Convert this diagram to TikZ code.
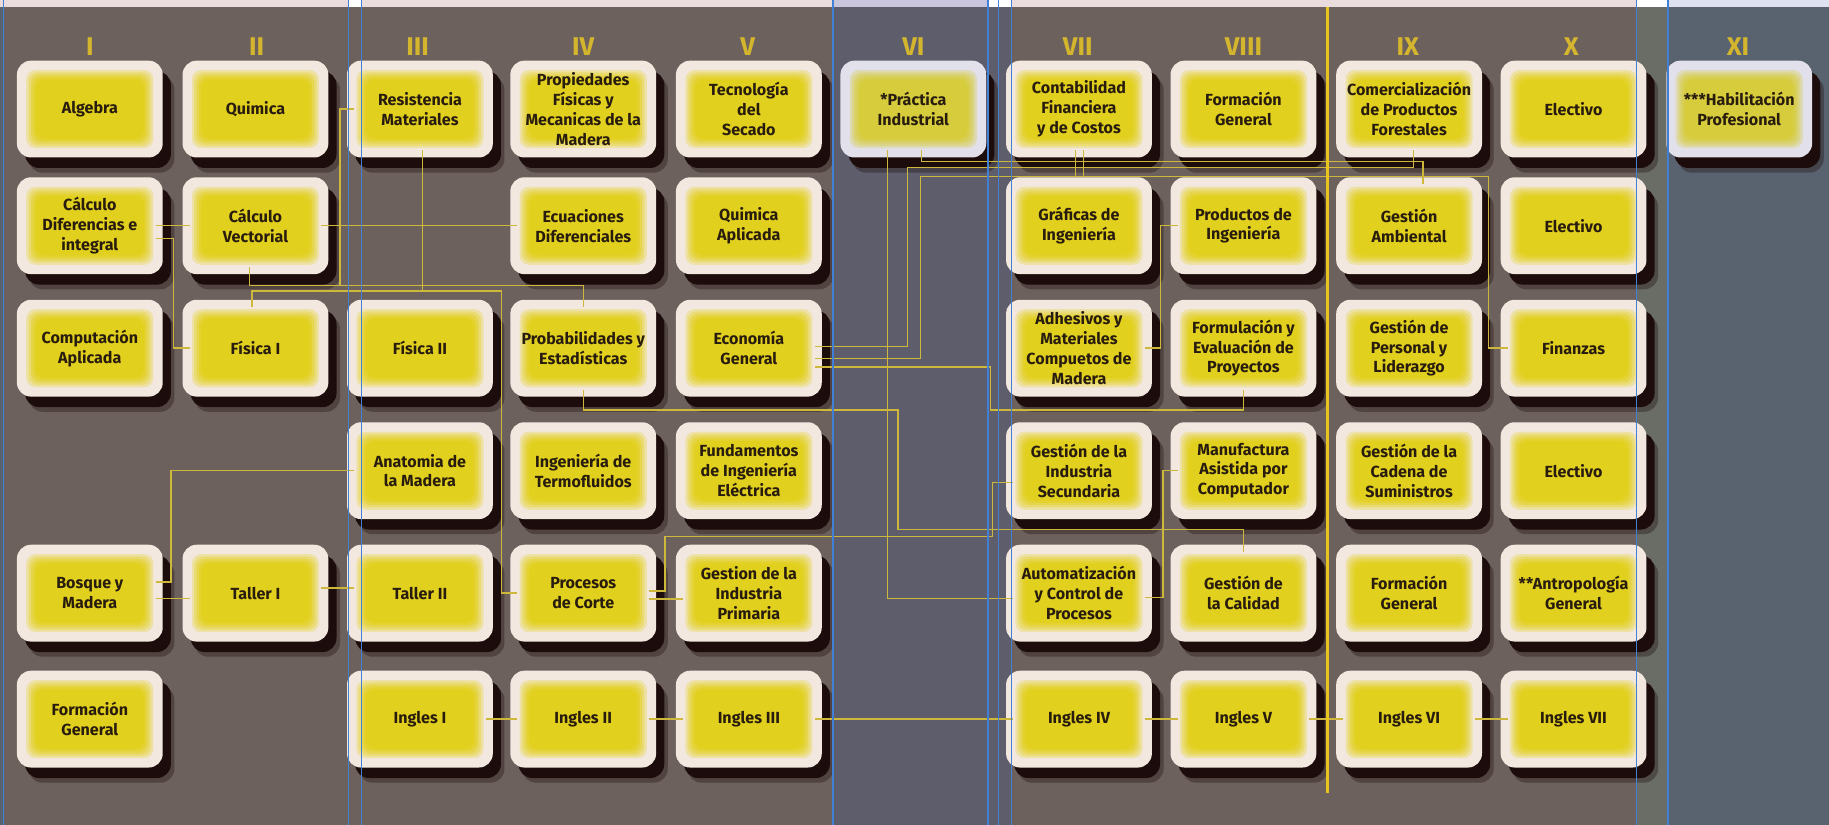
\documentclass[tikz,border=0pt]{standalone}
\usepackage{fontspec}
\setmainfont{Fira Sans}
\usepackage{xcolor}
\usepackage{tikz}
\usetikzlibrary{shadows}

\definecolor{bgbrown}{RGB}{108,97,93}
\definecolor{bgslate}{RGB}{94,93,107}
\definecolor{bgblue}{RGB}{88,99,111}
\definecolor{bgstrip}{RGB}{106,108,102}
\definecolor{bandpink}{RGB}{234,220,221}
\definecolor{bandlav}{RGB}{201,197,221}
\definecolor{bandice}{RGB}{221,225,240}
\definecolor{cream}{RGB}{243,232,224}
\definecolor{paleborder}{RGB}{226,224,234}
\definecolor{yel}{RGB}{226,208,30}
\definecolor{paleyel}{RGB}{214,204,60}
\definecolor{shadowc}{RGB}{28,12,12}
\definecolor{txt}{RGB}{40,28,14}
\definecolor{wirec}{RGB}{206,184,60}
\definecolor{numc}{RGB}{212,181,46}
\definecolor{guide}{RGB}{64,128,214}
\definecolor{divider}{RGB}{232,196,28}

\tikzset{
  boxbase/.style={rectangle, rounded corners=6pt, minimum width=62.5pt, minimum height=41.5pt,
    inner sep=0pt, outer sep=-3pt, align=center, text=txt,
    font=\fontsize{6.9}{8.5}\selectfont\bfseries,
    drop shadow={shadow xshift=5pt, shadow yshift=-6.5pt, fill=shadowc, opacity=0.35},
    drop shadow={shadow xshift=3.5pt, shadow yshift=-4.5pt, fill=shadowc, opacity=1}},
  boxglow/.style 2 args={fill=#1,
    path picture={\foreach \d/\m in {4/70,5/45,6/25,7/10,8/0}
      \fill[#1!\m!#2, rounded corners=4pt]
        ([shift={(\d pt,-\d pt)}]path picture bounding box.north west) rectangle
        ([shift={(-\d pt,\d pt)}]path picture bounding box.south east);}},
  course/.style={boxbase, boxglow={cream}{yel}},
  coursepale/.style={boxbase, boxglow={paleborder}{paleyel}},
  numeral/.style={text=numc, font=\fontsize{11}{11}\selectfont\bfseries},
  link/.style={draw=wirec, line width=0.6pt}
}

\begin{document}
\begin{tikzpicture}[x=0.5pt,y=-0.5pt]
      \useasboundingbox (0,0) rectangle (1568,707);
      % background bands
      \fill[bgbrown] (0,0) rectangle (1568,707);
      \fill[bgblue] (0,0) rectangle (3,707);
      \fill[bgslate] (714,0) rectangle (867,707);
      \fill[bgstrip] (1403,0) rectangle (1430,707);
      \fill[bgblue] (1430,0) rectangle (1568,707);
      \fill[bandpink] (0,0) rectangle (1568,6);
      \fill[white] (299,0) rectangle (310,6);
      \fill[bandlav] (714,0) rectangle (847,6);
      \fill[white] (847,0) rectangle (867,6);
      \fill[white] (1403,0) rectangle (1430,6);
      \fill[bandice] (1430,0) rectangle (1568,6);
      \foreach \x/\sem in {77/I,220/II,358/III,500/IV,641/V,783/VI,924/VII,1066/VIII,1207/IX,1347/X,1490/XI}
      \node[numeral] at (\x,40) {\sem};

      % row 1
      \node[course] (alg) at (77,93.5) {Algebra};
      \node[course] (qui) at (219,93.5) {Quimica};
      \node[course] (res) at (360,93.5) {Resistencia\\Materiales};
      \node[course] (prop) at (500,93.5) {Propiedades\\Físicas y\\Mecanicas de la\\Madera};
      \node[course] (tec) at (642,93.5) {Tecnología\\del\\Secado};
      \node[coursepale] (prac) at (783,93.5) {*Práctica\\Industrial};
      \node[course] (cont) at (925,93.5) {Contabilidad\\Financiera\\y de Costos};
      \node[course] (fgenA) at (1066,93.5) {Formación\\General};
      \node[course] (com) at (1208,93.5) {Comercialización\\de Productos\\Forestales};
      \node[course] (elecA) at (1349,93.5) {Electivo};
      \node[coursepale] (hab) at (1491,93.5) {***Habilitación\\Profesional};
      % row 2
      \node[course] (cdi) at (77,193.5) {Cálculo\\Diferencias e\\integral};
      \node[course] (cvec) at (219,193.5) {Cálculo\\Vectorial};
      \node[course] (ecu) at (500,193.5) {Ecuaciones\\Diferenciales};
      \node[course] (qap) at (642,193.5) {Quimica\\Aplicada};
      \node[course] (graf) at (925,193.5) {Gráficas de\\Ingeniería};
      \node[course] (prod) at (1066,193.5) {Productos de\\Ingeniería};
      \node[course] (gamb) at (1208,193.5) {Gestión\\Ambiental};
      \node[course] (elecB) at (1349,193.5) {Electivo};
      % row 3
      \node[course] (comp) at (77,298.5) {Computación\\Aplicada};
      \node[course] (fis1) at (219,298.5) {Física I};
      \node[course] (fis2) at (360,298.5) {Física II};
      \node[course] (prob) at (500,298.5) {Probabilidades y\\Estadísticas};
      \node[course] (eco) at (642,298.5) {Economía\\General};
      \node[course] (adh) at (925,298.5) {Adhesivos y\\Materiales\\Compuetos de\\Madera};
      \node[course] (form) at (1066,298.5) {Formulación y\\Evaluación de\\Proyectos};
      \node[course] (gper) at (1208,298.5) {Gestión de\\Personal y\\Liderazgo};
      \node[course] (fin) at (1349,298.5) {Finanzas};
      % row 4
      \node[course] (anat) at (360,403.5) {Anatomia de\\la Madera};
      \node[course] (term) at (500,403.5) {Ingeniería de\\Termofluidos};
      \node[course] (fund) at (642,403.5) {Fundamentos\\de Ingeniería\\Eléctrica};
      \node[course] (gsec) at (925,403.5) {Gestión de la\\Industria\\Secundaria};
      \node[course] (manu) at (1066,403.5) {Manufactura\\Asistida por\\Computador};
      \node[course] (gcad) at (1208,403.5) {Gestión de la\\Cadena de\\Suministros};
      \node[course] (elecC) at (1349,403.5) {Electivo};
      % row 5
      \node[course] (bos) at (77,508.5) {Bosque y\\Madera};
      \node[course] (tal1) at (219,508.5) {Taller I};
      \node[course] (tal2) at (360,508.5) {Taller II};
      \node[course] (proc) at (500,508.5) {Procesos\\de Corte};
      \node[course] (gprim) at (642,508.5) {Gestion de la\\Industria\\Primaria};
      \node[course] (auto) at (925,508.5) {Automatización\\y Control de\\Procesos};
      \node[course] (gcal) at (1066,508.5) {Gestión de\\la Calidad};
      \node[course] (fgenB) at (1208,508.5) {Formación\\General};
      \node[course] (antro) at (1349,508.5) {**Antropología\\General};
      % row 6
      \node[course] (fgenC) at (77,616.5) {Formación\\General};
      \node[course] (ing1) at (360,616.5) {Ingles I};
      \node[course] (ing2) at (500,616.5) {Ingles II};
      \node[course] (ing3) at (642,616.5) {Ingles III};
      \node[course] (ing4) at (925,616.5) {Ingles IV};
      \node[course] (ing5) at (1066,616.5) {Ingles V};
      \node[course] (ing6) at (1208,616.5) {Ingles VI};
      \node[course] (ing7) at (1349,616.5) {Ingles VII};

      % prerequisite lines
      \draw[link] (cdi.east) -- (cvec.west);
      \draw[link] ([yshift=-5.5pt]cdi.east) -| (148.5,298.5) -- (fis1.west);
      \draw[link] (cvec.east) -- (ecu.west);
      \draw[link] ([xshift=-2.5pt]cvec.south) |- (291.5,245) |- (res.west);
      \draw[link] ([xshift=-2.5pt]cvec.south) |- (500,245) -- (prob.north);
      \draw[link] ([xshift=-1.5pt]fis1.north) |- (430,249.5) |- (proc.west);
      \draw[link] ([xshift=1pt]res.south) |- (430,249.5) |- (proc.west);
      \draw[link] ([yshift=4.75pt]bos.east) -| (146.5,403.5) -- (anat.west);
      \draw[link] ([yshift=-2.25pt]bos.east) -- ([yshift=-2.25pt]tal1.west);
      \draw[link] ([yshift=2.25pt]tal1.east) -- ([yshift=2.25pt]tal2.west);
      \draw[link] ([yshift=1pt]proc.east) -| (570,460) -| (851,413.5) -- ([yshift=-5pt]gsec.west);
      \draw[link] ([yshift=-2.5pt]proc.east) -- ([yshift=-2.5pt]gprim.west);
      \draw[link] (prob.south) |- (770,351.5) |- (1066,454) -- (gcal.north);
      \draw[link] ([xshift=-11pt]prac.south) |- ([yshift=-2.25pt]auto.west);
      \draw[link] ([xshift=3.5pt]prac.south) |- (1220,138.5) -- ([xshift=6pt]gamb.north);
      \draw[link] ([yshift=0.75pt]eco.east) -| (778,143.5) -| ([xshift=2pt]com.south);
      \draw[link] ([yshift=-4.5pt]eco.east) -| (789,151.5) -| (1276,298.5) -- (fin.west);
      \draw[link] ([yshift=-4.5pt]eco.east) -| (789,151.5) -| ([xshift=-1.5pt]cont.south);
      \draw[link] ([yshift=-4.5pt]eco.east) -| (789,151.5) -| ([xshift=2pt]cont.south);
      \draw[link] ([yshift=-8pt]eco.east) -| (849,351.5) -| (form.south);
      \draw[link] (adh.east) -| (995,193.5) -- (prod.west);
      \draw[link] ([yshift=-1.75pt]auto.east) -| (997,403.5) -- (manu.west);
      \foreach \a/\b in {ing1/ing2,ing2/ing3,ing3/ing4,ing4/ing5,ing5/ing6,ing6/ing7}
      \draw[link] (\a.east) -- (\b.west);

      \draw[divider, line width=1.3pt] (1138,6) -- (1138,680);
      \foreach \x in {3,299,310,714,847,856,867,1403,1430}
      \draw[guide, line width=0.6pt] (\x,0) -- (\x,707);
\end{tikzpicture}
\end{document}
